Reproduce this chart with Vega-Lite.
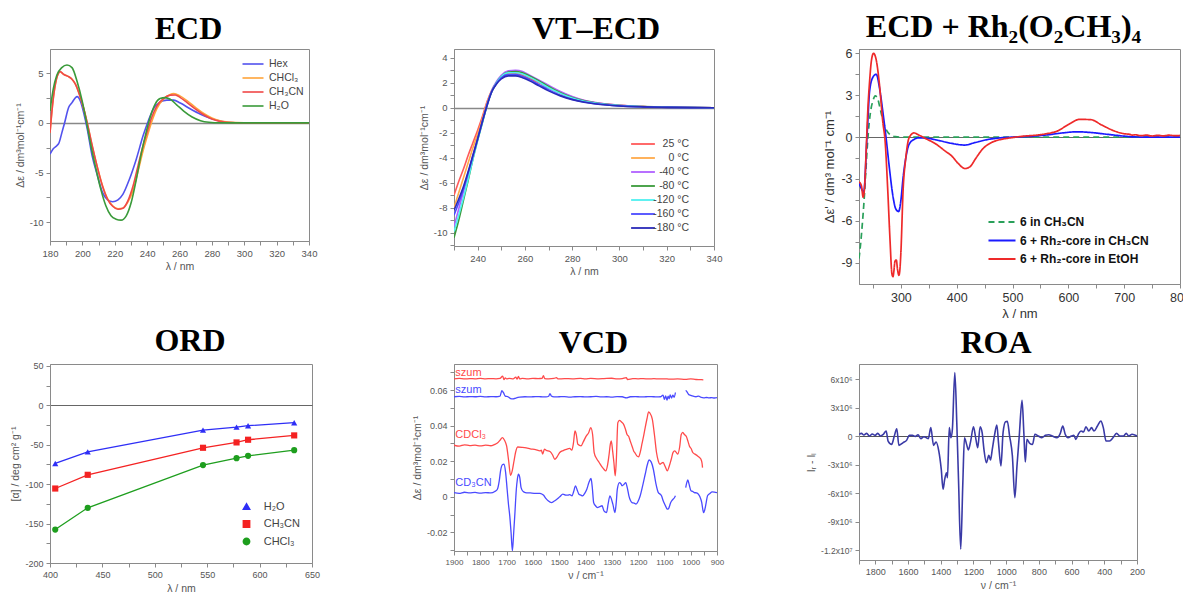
{
"$schema": "https://vega.github.io/schema/vega-lite/v6.json",
"padding": {"left": 10, "top": 10, "right": 5, "bottom": 5},
"background": "white",
"columns": 3,
"bounds": "flush",
"align": {"row": "all", "column": "none"},
"spacing": {"row": 80, "column": 142},
"resolve": {"scale": {"color": "independent", "shape": "independent", "strokeDash": "independent"}, "legend": {"color": "independent", "shape": "independent", "strokeDash": "independent"}},
"config": {
  "font": "Liberation Sans",
  "view": {"stroke": "#8a8a8a", "strokeWidth": 1},
  "axis": {"grid": false, "domainColor": "#8a8a8a", "tickColor": "#8a8a8a", "tickSize": 4, "labelFont": "Liberation Sans", "labelFontSize": 9.5, "labelColor": "#555555", "titleFont": "Liberation Sans", "titleFontSize": 10.5, "titleFontWeight": "normal", "titleColor": "#555555", "labelOverlap": false, "labelPadding": 3, "titlePadding": 4},
  "title": {"font": "Liberation Serif", "fontSize": 32, "fontWeight": "bold", "color": "#000000", "anchor": "middle", "baseline": "alphabetic"},
  "legend": {"labelFont": "Liberation Sans", "labelColor": "#444444", "labelFontSize": 10.5, "padding": 0}
},
"datasets": {
"ecd": [
{"s":"Hex","x":180,"y":-3.15},{"s":"Hex","x":182,"y":-2.6},{"s":"Hex","x":184.2,"y":-2.3},{"s":"Hex","x":185.6,"y":-2.0},{"s":"Hex","x":187.3,"y":-1.0},{"s":"Hex","x":189,"y":0},{"s":"Hex","x":191.5,"y":1.55},{"s":"Hex","x":193.6,"y":2.05},{"s":"Hex","x":195.5,"y":2.5},{"s":"Hex","x":196.7,"y":2.65},{"s":"Hex","x":198.8,"y":2.2},{"s":"Hex","x":201,"y":0.9},{"s":"Hex","x":203,"y":-0.6},{"s":"Hex","x":206,"y":-3.3},{"s":"Hex","x":209.3,"y":-5.3},{"s":"Hex","x":212.4,"y":-7.0},{"s":"Hex","x":215.6,"y":-7.75},{"s":"Hex","x":218.7,"y":-7.95},{"s":"Hex","x":222,"y":-7.75},{"s":"Hex","x":225,"y":-7.2},{"s":"Hex","x":229,"y":-5.7},{"s":"Hex","x":233.3,"y":-3.65},{"s":"Hex","x":237.5,"y":-1.3},{"s":"Hex","x":240.7,"y":0.2},{"s":"Hex","x":243.8,"y":1.4},{"s":"Hex","x":248,"y":2.1},{"s":"Hex","x":252.2,"y":2.3},{"s":"Hex","x":256.4,"y":2.3},{"s":"Hex","x":260.5,"y":2.0},{"s":"Hex","x":266.8,"y":1.4},{"s":"Hex","x":273,"y":0.87},{"s":"Hex","x":279.4,"y":0.44},{"s":"Hex","x":285.6,"y":0.17},{"s":"Hex","x":289.8,"y":0.07},{"s":"Hex","x":295,"y":0.02},{"s":"Hex","x":300,"y":0},{"s":"Hex","x":320,"y":0},{"s":"Hex","x":340,"y":0},
{"s":"CHCl₃","x":180,"y":-1.0},{"s":"CHCl₃","x":181.5,"y":1.7},{"s":"CHCl₃","x":183,"y":3.6},{"s":"CHCl₃","x":185,"y":4.95},{"s":"CHCl₃","x":186.3,"y":5.15},{"s":"CHCl₃","x":188.4,"y":4.9},{"s":"CHCl₃","x":191.5,"y":4.66},{"s":"CHCl₃","x":193.6,"y":4.4},{"s":"CHCl₃","x":195.7,"y":3.9},{"s":"CHCl₃","x":197.8,"y":3.05},{"s":"CHCl₃","x":200.9,"y":1.4},{"s":"CHCl₃","x":203,"y":0},{"s":"CHCl₃","x":206,"y":-2.3},{"s":"CHCl₃","x":209.3,"y":-4.5},{"s":"CHCl₃","x":212.4,"y":-6.3},{"s":"CHCl₃","x":215.6,"y":-7.65},{"s":"CHCl₃","x":218.7,"y":-8.35},{"s":"CHCl₃","x":222,"y":-8.65},{"s":"CHCl₃","x":225,"y":-8.6},{"s":"CHCl₃","x":228,"y":-8.0},{"s":"CHCl₃","x":231.5,"y":-6.7},{"s":"CHCl₃","x":234.5,"y":-4.8},{"s":"CHCl₃","x":237.5,"y":-2.8},{"s":"CHCl₃","x":240.7,"y":-1.0},{"s":"CHCl₃","x":243,"y":0.2},{"s":"CHCl₃","x":246,"y":1.45},{"s":"CHCl₃","x":250,"y":2.4},{"s":"CHCl₃","x":254,"y":2.85},{"s":"CHCl₃","x":256.5,"y":2.95},{"s":"CHCl₃","x":260,"y":2.75},{"s":"CHCl₃","x":265,"y":2.2},{"s":"CHCl₃","x":270,"y":1.55},{"s":"CHCl₃","x":275,"y":0.95},{"s":"CHCl₃","x":280,"y":0.5},{"s":"CHCl₃","x":285,"y":0.22},{"s":"CHCl₃","x":290,"y":0.08},{"s":"CHCl₃","x":300,"y":0.01},{"s":"CHCl₃","x":320,"y":0},{"s":"CHCl₃","x":340,"y":0},
{"s":"CH₃CN","x":180,"y":-1.0},{"s":"CH₃CN","x":181.5,"y":1.7},{"s":"CH₃CN","x":183.1,"y":3.7},{"s":"CH₃CN","x":185.2,"y":5.0},{"s":"CH₃CN","x":186.3,"y":5.17},{"s":"CH₃CN","x":188.4,"y":4.9},{"s":"CH₃CN","x":191.5,"y":4.66},{"s":"CH₃CN","x":193.6,"y":4.4},{"s":"CH₃CN","x":195.7,"y":3.9},{"s":"CH₃CN","x":197.8,"y":3.05},{"s":"CH₃CN","x":200.9,"y":1.4},{"s":"CH₃CN","x":203,"y":0},{"s":"CH₃CN","x":206.1,"y":-2.3},{"s":"CH₃CN","x":209.3,"y":-4.5},{"s":"CH₃CN","x":212.4,"y":-6.35},{"s":"CH₃CN","x":215.6,"y":-7.7},{"s":"CH₃CN","x":218.7,"y":-8.4},{"s":"CH₃CN","x":222,"y":-8.7},{"s":"CH₃CN","x":225,"y":-8.6},{"s":"CH₃CN","x":228.1,"y":-7.85},{"s":"CH₃CN","x":231.3,"y":-6.35},{"s":"CH₃CN","x":234.4,"y":-4.3},{"s":"CH₃CN","x":237.5,"y":-2.3},{"s":"CH₃CN","x":240.7,"y":-0.57},{"s":"CH₃CN","x":242.8,"y":0.54},{"s":"CH₃CN","x":246,"y":1.7},{"s":"CH₃CN","x":250.1,"y":2.45},{"s":"CH₃CN","x":254.3,"y":2.8},{"s":"CH₃CN","x":257.4,"y":2.82},{"s":"CH₃CN","x":260.5,"y":2.55},{"s":"CH₃CN","x":264.7,"y":2.05},{"s":"CH₃CN","x":269.9,"y":1.4},{"s":"CH₃CN","x":275.2,"y":0.8},{"s":"CH₃CN","x":280.4,"y":0.37},{"s":"CH₃CN","x":285.6,"y":0.13},{"s":"CH₃CN","x":290,"y":0.05},{"s":"CH₃CN","x":300,"y":0},{"s":"CH₃CN","x":320,"y":0},{"s":"CH₃CN","x":340,"y":0},
{"s":"H₂O","x":180,"y":1.2},{"s":"H₂O","x":182,"y":3.4},{"s":"H₂O","x":184.2,"y":4.8},{"s":"H₂O","x":187.3,"y":5.57},{"s":"H₂O","x":190.5,"y":5.84},{"s":"H₂O","x":193.6,"y":5.57},{"s":"H₂O","x":196.7,"y":4.2},{"s":"H₂O","x":199.9,"y":2.2},{"s":"H₂O","x":202.4,"y":0.2},{"s":"H₂O","x":205.1,"y":-2.15},{"s":"H₂O","x":208.2,"y":-4.5},{"s":"H₂O","x":211.4,"y":-6.7},{"s":"H₂O","x":214.5,"y":-8.35},{"s":"H₂O","x":217.7,"y":-9.36},{"s":"H₂O","x":220.8,"y":-9.7},{"s":"H₂O","x":223.9,"y":-9.8},{"s":"H₂O","x":227.1,"y":-9.36},{"s":"H₂O","x":230.2,"y":-8.0},{"s":"H₂O","x":233.3,"y":-5.7},{"s":"H₂O","x":236.5,"y":-3.0},{"s":"H₂O","x":239.6,"y":-0.8},{"s":"H₂O","x":242.1,"y":0.7},{"s":"H₂O","x":244.9,"y":1.88},{"s":"H₂O","x":248,"y":2.45},{"s":"H₂O","x":251.1,"y":2.55},{"s":"H₂O","x":254.3,"y":2.38},{"s":"H₂O","x":258.4,"y":1.8},{"s":"H₂O","x":262.6,"y":1.2},{"s":"H₂O","x":267.8,"y":0.6},{"s":"H₂O","x":273,"y":0.23},{"s":"H₂O","x":278.2,"y":0.07},{"s":"H₂O","x":285,"y":0.01},{"s":"H₂O","x":300,"y":0},{"s":"H₂O","x":340,"y":0}
],
"vt": [
{"t":"25 °C","x":230,"y":-7.0},{"t":"25 °C","x":232,"y":-5.9},{"t":"25 °C","x":234,"y":-4.9},{"t":"25 °C","x":236,"y":-3.8},{"t":"25 °C","x":238,"y":-2.8},{"t":"25 °C","x":240,"y":-1.8},{"t":"25 °C","x":242,"y":-0.7},{"t":"25 °C","x":244,"y":0.5},{"t":"25 °C","x":246,"y":1.4},{"t":"25 °C","x":248,"y":2.0},{"t":"25 °C","x":250,"y":2.4},{"t":"25 °C","x":253,"y":2.7},{"t":"25 °C","x":256,"y":2.75},{"t":"25 °C","x":259,"y":2.6},{"t":"25 °C","x":262,"y":2.35},{"t":"25 °C","x":266,"y":2.0},{"t":"25 °C","x":270,"y":1.6},{"t":"25 °C","x":275,"y":1.15},{"t":"25 °C","x":280,"y":0.8},{"t":"25 °C","x":285,"y":0.55},{"t":"25 °C","x":290,"y":0.38},{"t":"25 °C","x":300,"y":0.2},{"t":"25 °C","x":310,"y":0.1},{"t":"25 °C","x":320,"y":0.05},{"t":"25 °C","x":330,"y":0.02},{"t":"25 °C","x":340,"y":0},
{"t":"0 °C","x":230,"y":-8.0},{"t":"0 °C","x":232,"y":-6.8},{"t":"0 °C","x":234,"y":-5.6},{"t":"0 °C","x":236,"y":-4.4},{"t":"0 °C","x":238,"y":-3.2},{"t":"0 °C","x":240,"y":-2.1},{"t":"0 °C","x":242,"y":-0.9},{"t":"0 °C","x":244,"y":0.4},{"t":"0 °C","x":246,"y":1.4},{"t":"0 °C","x":248,"y":2.0},{"t":"0 °C","x":250,"y":2.45},{"t":"0 °C","x":253,"y":2.75},{"t":"0 °C","x":256,"y":2.85},{"t":"0 °C","x":259,"y":2.75},{"t":"0 °C","x":262,"y":2.5},{"t":"0 °C","x":266,"y":2.1},{"t":"0 °C","x":270,"y":1.7},{"t":"0 °C","x":275,"y":1.25},{"t":"0 °C","x":280,"y":0.85},{"t":"0 °C","x":285,"y":0.58},{"t":"0 °C","x":290,"y":0.4},{"t":"0 °C","x":300,"y":0.2},{"t":"0 °C","x":310,"y":0.1},{"t":"0 °C","x":320,"y":0.05},{"t":"0 °C","x":330,"y":0.02},{"t":"0 °C","x":340,"y":0},
{"t":"-40 °C","x":230,"y":-9.5},{"t":"-40 °C","x":232,"y":-8.1},{"t":"-40 °C","x":234,"y":-6.7},{"t":"-40 °C","x":236,"y":-5.3},{"t":"-40 °C","x":238,"y":-3.8},{"t":"-40 °C","x":240,"y":-2.5},{"t":"-40 °C","x":242,"y":-1.1},{"t":"-40 °C","x":244,"y":0.3},{"t":"-40 °C","x":246,"y":1.4},{"t":"-40 °C","x":248,"y":2.1},{"t":"-40 °C","x":250,"y":2.6},{"t":"-40 °C","x":253,"y":2.95},{"t":"-40 °C","x":256,"y":3.0},{"t":"-40 °C","x":259,"y":2.9},{"t":"-40 °C","x":262,"y":2.6},{"t":"-40 °C","x":266,"y":2.2},{"t":"-40 °C","x":270,"y":1.8},{"t":"-40 °C","x":275,"y":1.3},{"t":"-40 °C","x":280,"y":0.9},{"t":"-40 °C","x":285,"y":0.6},{"t":"-40 °C","x":290,"y":0.42},{"t":"-40 °C","x":300,"y":0.2},{"t":"-40 °C","x":310,"y":0.1},{"t":"-40 °C","x":320,"y":0.05},{"t":"-40 °C","x":330,"y":0.02},{"t":"-40 °C","x":340,"y":0},
{"t":"-80 °C","x":230,"y":-10.4},{"t":"-80 °C","x":232,"y":-9.0},{"t":"-80 °C","x":234,"y":-7.4},{"t":"-80 °C","x":236,"y":-5.8},{"t":"-80 °C","x":238,"y":-4.1},{"t":"-80 °C","x":240,"y":-2.6},{"t":"-80 °C","x":242,"y":-1.2},{"t":"-80 °C","x":244,"y":0.2},{"t":"-80 °C","x":246,"y":1.3},{"t":"-80 °C","x":248,"y":2.0},{"t":"-80 °C","x":250,"y":2.5},{"t":"-80 °C","x":253,"y":2.85},{"t":"-80 °C","x":256,"y":2.9},{"t":"-80 °C","x":259,"y":2.8},{"t":"-80 °C","x":262,"y":2.55},{"t":"-80 °C","x":266,"y":2.15},{"t":"-80 °C","x":270,"y":1.7},{"t":"-80 °C","x":275,"y":1.2},{"t":"-80 °C","x":280,"y":0.82},{"t":"-80 °C","x":285,"y":0.55},{"t":"-80 °C","x":290,"y":0.38},{"t":"-80 °C","x":300,"y":0.18},{"t":"-80 °C","x":310,"y":0.09},{"t":"-80 °C","x":320,"y":0.04},{"t":"-80 °C","x":330,"y":0.02},{"t":"-80 °C","x":340,"y":0},
{"t":"-120 °C","x":230,"y":-9.9},{"t":"-120 °C","x":232,"y":-8.6},{"t":"-120 °C","x":234,"y":-7.2},{"t":"-120 °C","x":236,"y":-5.7},{"t":"-120 °C","x":238,"y":-4.1},{"t":"-120 °C","x":240,"y":-2.6},{"t":"-120 °C","x":242,"y":-1.2},{"t":"-120 °C","x":244,"y":0.2},{"t":"-120 °C","x":246,"y":1.3},{"t":"-120 °C","x":248,"y":2.0},{"t":"-120 °C","x":250,"y":2.5},{"t":"-120 °C","x":253,"y":2.8},{"t":"-120 °C","x":256,"y":2.8},{"t":"-120 °C","x":259,"y":2.7},{"t":"-120 °C","x":262,"y":2.45},{"t":"-120 °C","x":266,"y":2.05},{"t":"-120 °C","x":270,"y":1.6},{"t":"-120 °C","x":275,"y":1.15},{"t":"-120 °C","x":280,"y":0.78},{"t":"-120 °C","x":285,"y":0.52},{"t":"-120 °C","x":290,"y":0.36},{"t":"-120 °C","x":300,"y":0.17},{"t":"-120 °C","x":310,"y":0.08},{"t":"-120 °C","x":320,"y":0.04},{"t":"-120 °C","x":330,"y":0.02},{"t":"-120 °C","x":340,"y":0},
{"t":"-160 °C","x":230,"y":-8.6},{"t":"-160 °C","x":232,"y":-7.6},{"t":"-160 °C","x":234,"y":-6.5},{"t":"-160 °C","x":236,"y":-5.2},{"t":"-160 °C","x":238,"y":-3.9},{"t":"-160 °C","x":240,"y":-2.5},{"t":"-160 °C","x":242,"y":-1.1},{"t":"-160 °C","x":244,"y":0.2},{"t":"-160 °C","x":246,"y":1.3},{"t":"-160 °C","x":248,"y":1.95},{"t":"-160 °C","x":250,"y":2.4},{"t":"-160 °C","x":253,"y":2.65},{"t":"-160 °C","x":256,"y":2.65},{"t":"-160 °C","x":259,"y":2.5},{"t":"-160 °C","x":262,"y":2.25},{"t":"-160 °C","x":266,"y":1.85},{"t":"-160 °C","x":270,"y":1.45},{"t":"-160 °C","x":275,"y":1.0},{"t":"-160 °C","x":280,"y":0.68},{"t":"-160 °C","x":285,"y":0.46},{"t":"-160 °C","x":290,"y":0.32},{"t":"-160 °C","x":300,"y":0.15},{"t":"-160 °C","x":310,"y":0.07},{"t":"-160 °C","x":320,"y":0.03},{"t":"-160 °C","x":330,"y":0.01},{"t":"-160 °C","x":340,"y":0},
{"t":"-180 °C","x":230,"y":-8.2},{"t":"-180 °C","x":232,"y":-7.3},{"t":"-180 °C","x":234,"y":-6.3},{"t":"-180 °C","x":236,"y":-5.1},{"t":"-180 °C","x":238,"y":-3.8},{"t":"-180 °C","x":240,"y":-2.5},{"t":"-180 °C","x":242,"y":-1.1},{"t":"-180 °C","x":244,"y":0.2},{"t":"-180 °C","x":246,"y":1.3},{"t":"-180 °C","x":248,"y":1.9},{"t":"-180 °C","x":250,"y":2.3},{"t":"-180 °C","x":253,"y":2.55},{"t":"-180 °C","x":256,"y":2.55},{"t":"-180 °C","x":259,"y":2.4},{"t":"-180 °C","x":262,"y":2.15},{"t":"-180 °C","x":266,"y":1.75},{"t":"-180 °C","x":270,"y":1.35},{"t":"-180 °C","x":275,"y":0.95},{"t":"-180 °C","x":280,"y":0.65},{"t":"-180 °C","x":285,"y":0.44},{"t":"-180 °C","x":290,"y":0.3},{"t":"-180 °C","x":300,"y":0.14},{"t":"-180 °C","x":310,"y":0.07},{"t":"-180 °C","x":320,"y":0.03},{"t":"-180 °C","x":330,"y":0.01},{"t":"-180 °C","x":340,"y":0}
],
"rh": [
{"s":"6 in CH₃CN","x":225,"y":-8.7},{"s":"6 in CH₃CN","x":228,"y":-7.6},{"s":"6 in CH₃CN","x":231,"y":-6.2},{"s":"6 in CH₃CN","x":234,"y":-4.6},{"s":"6 in CH₃CN","x":237,"y":-2.6},{"s":"6 in CH₃CN","x":240,"y":-0.6},{"s":"6 in CH₃CN","x":243,"y":0.9},{"s":"6 in CH₃CN","x":246,"y":1.9},{"s":"6 in CH₃CN","x":250,"y":2.6},{"s":"6 in CH₃CN","x":254,"y":2.95},{"s":"6 in CH₃CN","x":258,"y":2.8},{"s":"6 in CH₃CN","x":262,"y":2.2},{"s":"6 in CH₃CN","x":266,"y":1.5},{"s":"6 in CH₃CN","x":270,"y":0.9},{"s":"6 in CH₃CN","x":275,"y":0.45},{"s":"6 in CH₃CN","x":280,"y":0.2},{"s":"6 in CH₃CN","x":285,"y":0.08},{"s":"6 in CH₃CN","x":290,"y":0.03},{"s":"6 in CH₃CN","x":300,"y":0},{"s":"6 in CH₃CN","x":400,"y":0},{"s":"6 in CH₃CN","x":500,"y":0},{"s":"6 in CH₃CN","x":600,"y":0},{"s":"6 in CH₃CN","x":700,"y":0},{"s":"6 in CH₃CN","x":800,"y":0},
{"s":"6 + Rh₂-core in CH₃CN","x":225,"y":-3.3},{"s":"6 + Rh₂-core in CH₃CN","x":229.4,"y":-3.7},{"s":"6 + Rh₂-core in CH₃CN","x":233.5,"y":-3.95},{"s":"6 + Rh₂-core in CH₃CN","x":236,"y":-2.8},{"s":"6 + Rh₂-core in CH₃CN","x":238,"y":-1.0},{"s":"6 + Rh₂-core in CH₃CN","x":241,"y":1.3},{"s":"6 + Rh₂-core in CH₃CN","x":244,"y":3.3},{"s":"6 + Rh₂-core in CH₃CN","x":250,"y":4.3},{"s":"6 + Rh₂-core in CH₃CN","x":255.9,"y":4.5},{"s":"6 + Rh₂-core in CH₃CN","x":261.8,"y":3.5},{"s":"6 + Rh₂-core in CH₃CN","x":267.6,"y":1.85},{"s":"6 + Rh₂-core in CH₃CN","x":273.5,"y":-0.05},{"s":"6 + Rh₂-core in CH₃CN","x":279.4,"y":-2.2},{"s":"6 + Rh₂-core in CH₃CN","x":285.3,"y":-4.1},{"s":"6 + Rh₂-core in CH₃CN","x":291,"y":-5.15},{"s":"6 + Rh₂-core in CH₃CN","x":295.9,"y":-5.33},{"s":"6 + Rh₂-core in CH₃CN","x":300,"y":-4.55},{"s":"6 + Rh₂-core in CH₃CN","x":304,"y":-2.9},{"s":"6 + Rh₂-core in CH₃CN","x":308.8,"y":-1.5},{"s":"6 + Rh₂-core in CH₃CN","x":314.7,"y":-0.52},{"s":"6 + Rh₂-core in CH₃CN","x":323.5,"y":-0.17},{"s":"6 + Rh₂-core in CH₃CN","x":332,"y":-0.05},{"s":"6 + Rh₂-core in CH₃CN","x":350,"y":-0.1},{"s":"6 + Rh₂-core in CH₃CN","x":367.6,"y":-0.24},{"s":"6 + Rh₂-core in CH₃CN","x":391,"y":-0.45},{"s":"6 + Rh₂-core in CH₃CN","x":414.7,"y":-0.57},{"s":"6 + Rh₂-core in CH₃CN","x":432,"y":-0.4},{"s":"6 + Rh₂-core in CH₃CN","x":456,"y":-0.17},{"s":"6 + Rh₂-core in CH₃CN","x":479.4,"y":-0.05},{"s":"6 + Rh₂-core in CH₃CN","x":500,"y":0},{"s":"6 + Rh₂-core in CH₃CN","x":530,"y":0.05},{"s":"6 + Rh₂-core in CH₃CN","x":560,"y":0.15},{"s":"6 + Rh₂-core in CH₃CN","x":590,"y":0.3},{"s":"6 + Rh₂-core in CH₃CN","x":615,"y":0.38},{"s":"6 + Rh₂-core in CH₃CN","x":640,"y":0.33},{"s":"6 + Rh₂-core in CH₃CN","x":670,"y":0.2},{"s":"6 + Rh₂-core in CH₃CN","x":700,"y":0.07},{"s":"6 + Rh₂-core in CH₃CN","x":720,"y":0.01},{"s":"6 + Rh₂-core in CH₃CN","x":750,"y":0},{"s":"6 + Rh₂-core in CH₃CN","x":800,"y":0},
{"s":"6 + Rh₂-core in EtOH","x":225,"y":-3.2},{"s":"6 + Rh₂-core in EtOH","x":229.4,"y":-3.5},{"s":"6 + Rh₂-core in EtOH","x":232.4,"y":-4.3},{"s":"6 + Rh₂-core in EtOH","x":235.3,"y":-3.4},{"s":"6 + Rh₂-core in EtOH","x":238,"y":-0.8},{"s":"6 + Rh₂-core in EtOH","x":241,"y":2.1},{"s":"6 + Rh₂-core in EtOH","x":244,"y":4.0},{"s":"6 + Rh₂-core in EtOH","x":247,"y":5.4},{"s":"6 + Rh₂-core in EtOH","x":251,"y":6.0},{"s":"6 + Rh₂-core in EtOH","x":256,"y":5.5},{"s":"6 + Rh₂-core in EtOH","x":261.8,"y":3.7},{"s":"6 + Rh₂-core in EtOH","x":267.6,"y":1.1},{"s":"6 + Rh₂-core in EtOH","x":271.8,"y":-0.3},{"s":"6 + Rh₂-core in EtOH","x":276.5,"y":-3.8},{"s":"6 + Rh₂-core in EtOH","x":280.6,"y":-7.4},{"s":"6 + Rh₂-core in EtOH","x":284,"y":-9.8},{"s":"6 + Rh₂-core in EtOH","x":285.9,"y":-10.0},{"s":"6 + Rh₂-core in EtOH","x":287.5,"y":-9.6},{"s":"6 + Rh₂-core in EtOH","x":289.4,"y":-8.9},{"s":"6 + Rh₂-core in EtOH","x":291.8,"y":-8.8},{"s":"6 + Rh₂-core in EtOH","x":294.1,"y":-9.5},{"s":"6 + Rh₂-core in EtOH","x":296.5,"y":-9.9},{"s":"6 + Rh₂-core in EtOH","x":298,"y":-9.6},{"s":"6 + Rh₂-core in EtOH","x":300,"y":-8.3},{"s":"6 + Rh₂-core in EtOH","x":304,"y":-3.8},{"s":"6 + Rh₂-core in EtOH","x":308.8,"y":-1.5},{"s":"6 + Rh₂-core in EtOH","x":314.7,"y":-0.05},{"s":"6 + Rh₂-core in EtOH","x":323.5,"y":0.3},{"s":"6 + Rh₂-core in EtOH","x":332,"y":0.15},{"s":"6 + Rh₂-core in EtOH","x":344,"y":-0.1},{"s":"6 + Rh₂-core in EtOH","x":361.8,"y":-0.47},{"s":"6 + Rh₂-core in EtOH","x":379.4,"y":-1.0},{"s":"6 + Rh₂-core in EtOH","x":391,"y":-1.35},{"s":"6 + Rh₂-core in EtOH","x":403,"y":-1.9},{"s":"6 + Rh₂-core in EtOH","x":414.7,"y":-2.25},{"s":"6 + Rh₂-core in EtOH","x":423.5,"y":-2.13},{"s":"6 + Rh₂-core in EtOH","x":435,"y":-1.47},{"s":"6 + Rh₂-core in EtOH","x":447,"y":-0.83},{"s":"6 + Rh₂-core in EtOH","x":461.8,"y":-0.4},{"s":"6 + Rh₂-core in EtOH","x":479,"y":-0.17},{"s":"6 + Rh₂-core in EtOH","x":497,"y":-0.05},{"s":"6 + Rh₂-core in EtOH","x":520,"y":0.07},{"s":"6 + Rh₂-core in EtOH","x":540,"y":0.13},{"s":"6 + Rh₂-core in EtOH","x":560,"y":0.24},{"s":"6 + Rh₂-core in EtOH","x":580,"y":0.43},{"s":"6 + Rh₂-core in EtOH","x":600,"y":0.9},{"s":"6 + Rh₂-core in EtOH","x":620,"y":1.27},{"s":"6 + Rh₂-core in EtOH","x":640,"y":1.25},{"s":"6 + Rh₂-core in EtOH","x":660,"y":0.86},{"s":"6 + Rh₂-core in EtOH","x":680,"y":0.48},{"s":"6 + Rh₂-core in EtOH","x":700,"y":0.24},{"s":"6 + Rh₂-core in EtOH","x":710,"y":0.2},{"s":"6 + Rh₂-core in EtOH","x":715,"y":0.14},{"s":"6 + Rh₂-core in EtOH","x":720,"y":0.17},{"s":"6 + Rh₂-core in EtOH","x":730,"y":0.1},{"s":"6 + Rh₂-core in EtOH","x":740,"y":0.14},{"s":"6 + Rh₂-core in EtOH","x":750,"y":0.08},{"s":"6 + Rh₂-core in EtOH","x":760,"y":0.13},{"s":"6 + Rh₂-core in EtOH","x":770,"y":0.09},{"s":"6 + Rh₂-core in EtOH","x":780,"y":0.14},{"s":"6 + Rh₂-core in EtOH","x":790,"y":0.1},{"s":"6 + Rh₂-core in EtOH","x":800,"y":0.12}
],
"ord": [
{"s":"H₂O","x":405,"y":-73.7},{"s":"H₂O","x":436,"y":-58.9},{"s":"H₂O","x":546,"y":-31.4},{"s":"H₂O","x":578,"y":-27.5},{"s":"H₂O","x":589,"y":-25.8},{"s":"H₂O","x":633,"y":-22.0},
{"s":"CH₃CN","x":405,"y":-105.5},{"s":"CH₃CN","x":436,"y":-88.1},{"s":"CH₃CN","x":546,"y":-53.8},{"s":"CH₃CN","x":578,"y":-47.0},{"s":"CH₃CN","x":589,"y":-43.6},{"s":"CH₃CN","x":633,"y":-38.1},
{"s":"CHCl₃","x":405,"y":-157.6},{"s":"CHCl₃","x":436,"y":-130.0},{"s":"CHCl₃","x":546,"y":-75.8},{"s":"CHCl₃","x":578,"y":-67.0},{"s":"CHCl₃","x":589,"y":-64.0},{"s":"CHCl₃","x":633,"y":-56.8}
],
"vcd": [
{"g":"CDCl₃","seg":"n1","x":1900,"y":0.0663},{"g":"CDCl₃","seg":"n1","x":1880,"y":0.0665},{"g":"CDCl₃","seg":"n1","x":1860,"y":0.0662},{"g":"CDCl₃","seg":"n1","x":1840,"y":0.0664},{"g":"CDCl₃","seg":"n1","x":1820,"y":0.0663},{"g":"CDCl₃","seg":"n1","x":1800,"y":0.0665},{"g":"CDCl₃","seg":"n1","x":1780,"y":0.0663},{"g":"CDCl₃","seg":"n1","x":1760,"y":0.0664},{"g":"CDCl₃","seg":"n1","x":1740,"y":0.0663},{"g":"CDCl₃","seg":"n1","x":1725,"y":0.0665},{"g":"CDCl₃","seg":"n1","x":1715,"y":0.0678},{"g":"CDCl₃","seg":"n1","x":1710,"y":0.0658},{"g":"CDCl₃","seg":"n1","x":1705,"y":0.0668},{"g":"CDCl₃","seg":"n1","x":1700,"y":0.0662},{"g":"CDCl₃","seg":"n1","x":1690,"y":0.0665},{"g":"CDCl₃","seg":"n1","x":1675,"y":0.0663},{"g":"CDCl₃","seg":"n1","x":1665,"y":0.0672},{"g":"CDCl₃","seg":"n1","x":1660,"y":0.0661},{"g":"CDCl₃","seg":"n1","x":1655,"y":0.0676},{"g":"CDCl₃","seg":"n1","x":1650,"y":0.0662},{"g":"CDCl₃","seg":"n1","x":1640,"y":0.0665},{"g":"CDCl₃","seg":"n1","x":1620,"y":0.0663},{"g":"CDCl₃","seg":"n1","x":1600,"y":0.0665},{"g":"CDCl₃","seg":"n1","x":1580,"y":0.0664},{"g":"CDCl₃","seg":"n1","x":1565,"y":0.0666},{"g":"CDCl₃","seg":"n1","x":1560,"y":0.0680},{"g":"CDCl₃","seg":"n1","x":1555,"y":0.0664},{"g":"CDCl₃","seg":"n1","x":1540,"y":0.0663},{"g":"CDCl₃","seg":"n1","x":1520,"y":0.0665},{"g":"CDCl₃","seg":"n1","x":1510,"y":0.0670},{"g":"CDCl₃","seg":"n1","x":1505,"y":0.0662},{"g":"CDCl₃","seg":"n1","x":1480,"y":0.0664},{"g":"CDCl₃","seg":"n1","x":1450,"y":0.0663},{"g":"CDCl₃","seg":"n1","x":1420,"y":0.0665},{"g":"CDCl₃","seg":"n1","x":1400,"y":0.0663},{"g":"CDCl₃","seg":"n1","x":1380,"y":0.0665},{"g":"CDCl₃","seg":"n1","x":1350,"y":0.0663},{"g":"CDCl₃","seg":"n1","x":1330,"y":0.0664},{"g":"CDCl₃","seg":"n1","x":1300,"y":0.0666},{"g":"CDCl₃","seg":"n1","x":1280,"y":0.0662},{"g":"CDCl₃","seg":"n1","x":1260,"y":0.0664},{"g":"CDCl₃","seg":"n1","x":1245,"y":0.0669},{"g":"CDCl₃","seg":"n1","x":1240,"y":0.0659},{"g":"CDCl₃","seg":"n1","x":1220,"y":0.0664},{"g":"CDCl₃","seg":"n1","x":1200,"y":0.0663},{"g":"CDCl₃","seg":"n1","x":1180,"y":0.0664},{"g":"CDCl₃","seg":"n1","x":1160,"y":0.0662},{"g":"CDCl₃","seg":"n1","x":1140,"y":0.0664},{"g":"CDCl₃","seg":"n1","x":1120,"y":0.0662},{"g":"CDCl₃","seg":"n1","x":1100,"y":0.0663},{"g":"CDCl₃","seg":"n1","x":1080,"y":0.0661},{"g":"CDCl₃","seg":"n1","x":1050,"y":0.0662},{"g":"CDCl₃","seg":"n1","x":1020,"y":0.0660},{"g":"CDCl₃","seg":"n1","x":1000,"y":0.0663},{"g":"CDCl₃","seg":"n1","x":980,"y":0.0659},{"g":"CDCl₃","seg":"n1","x":960,"y":0.0658},{"g":"CDCl₃","seg":"n1","x":952,"y":0.0657},
{"g":"CD₃CN","seg":"n2a","x":1900,"y":0.0562},{"g":"CD₃CN","seg":"n2a","x":1880,"y":0.0564},{"g":"CD₃CN","seg":"n2a","x":1860,"y":0.0561},{"g":"CD₃CN","seg":"n2a","x":1840,"y":0.0563},{"g":"CD₃CN","seg":"n2a","x":1820,"y":0.0562},{"g":"CD₃CN","seg":"n2a","x":1800,"y":0.0564},{"g":"CD₃CN","seg":"n2a","x":1780,"y":0.0561},{"g":"CD₃CN","seg":"n2a","x":1760,"y":0.0563},{"g":"CD₃CN","seg":"n2a","x":1740,"y":0.0562},{"g":"CD₃CN","seg":"n2a","x":1725,"y":0.0565},{"g":"CD₃CN","seg":"n2a","x":1718,"y":0.0596},{"g":"CD₃CN","seg":"n2a","x":1712,"y":0.0585},{"g":"CD₃CN","seg":"n2a","x":1705,"y":0.0566},{"g":"CD₃CN","seg":"n2a","x":1695,"y":0.0562},{"g":"CD₃CN","seg":"n2a","x":1685,"y":0.0552},{"g":"CD₃CN","seg":"n2a","x":1675,"y":0.0550},{"g":"CD₃CN","seg":"n2a","x":1665,"y":0.0555},{"g":"CD₃CN","seg":"n2a","x":1650,"y":0.0560},{"g":"CD₃CN","seg":"n2a","x":1630,"y":0.0562},{"g":"CD₃CN","seg":"n2a","x":1610,"y":0.0561},{"g":"CD₃CN","seg":"n2a","x":1590,"y":0.0563},{"g":"CD₃CN","seg":"n2a","x":1570,"y":0.0562},{"g":"CD₃CN","seg":"n2a","x":1550,"y":0.0561},{"g":"CD₃CN","seg":"n2a","x":1540,"y":0.0565},{"g":"CD₃CN","seg":"n2a","x":1535,"y":0.0580},{"g":"CD₃CN","seg":"n2a","x":1530,"y":0.0566},{"g":"CD₃CN","seg":"n2a","x":1520,"y":0.0561},{"g":"CD₃CN","seg":"n2a","x":1500,"y":0.0562},{"g":"CD₃CN","seg":"n2a","x":1480,"y":0.0563},{"g":"CD₃CN","seg":"n2a","x":1460,"y":0.0560},{"g":"CD₃CN","seg":"n2a","x":1440,"y":0.0562},{"g":"CD₃CN","seg":"n2a","x":1420,"y":0.0563},{"g":"CD₃CN","seg":"n2a","x":1400,"y":0.0561},{"g":"CD₃CN","seg":"n2a","x":1380,"y":0.0562},{"g":"CD₃CN","seg":"n2a","x":1360,"y":0.0564},{"g":"CD₃CN","seg":"n2a","x":1340,"y":0.0561},{"g":"CD₃CN","seg":"n2a","x":1320,"y":0.0562},{"g":"CD₃CN","seg":"n2a","x":1300,"y":0.0560},{"g":"CD₃CN","seg":"n2a","x":1280,"y":0.0563},{"g":"CD₃CN","seg":"n2a","x":1260,"y":0.0562},{"g":"CD₃CN","seg":"n2a","x":1245,"y":0.0556},{"g":"CD₃CN","seg":"n2a","x":1230,"y":0.0562},{"g":"CD₃CN","seg":"n2a","x":1210,"y":0.0563},{"g":"CD₃CN","seg":"n2a","x":1190,"y":0.0561},{"g":"CD₃CN","seg":"n2a","x":1170,"y":0.0562},{"g":"CD₃CN","seg":"n2a","x":1150,"y":0.0563},{"g":"CD₃CN","seg":"n2a","x":1130,"y":0.0561},{"g":"CD₃CN","seg":"n2a","x":1115,"y":0.0562},{"g":"CD₃CN","seg":"n2a","x":1105,"y":0.0571},{"g":"CD₃CN","seg":"n2a","x":1100,"y":0.0547},{"g":"CD₃CN","seg":"n2a","x":1095,"y":0.0567},{"g":"CD₃CN","seg":"n2a","x":1090,"y":0.0543},{"g":"CD₃CN","seg":"n2a","x":1086,"y":0.0566},{"g":"CD₃CN","seg":"n2a","x":1082,"y":0.0551},{"g":"CD₃CN","seg":"n2a","x":1078,"y":0.0573},{"g":"CD₃CN","seg":"n2a","x":1073,"y":0.0555},{"g":"CD₃CN","seg":"n2a","x":1068,"y":0.0571},{"g":"CD₃CN","seg":"n2a","x":1063,"y":0.0559},{"g":"CD₃CN","seg":"n2a","x":1058,"y":0.0586},
{"g":"CD₃CN","seg":"n2b","x":1019,"y":0.0598},{"g":"CD₃CN","seg":"n2b","x":1014,"y":0.0590},{"g":"CD₃CN","seg":"n2b","x":1008,"y":0.0575},{"g":"CD₃CN","seg":"n2b","x":1000,"y":0.0570},{"g":"CD₃CN","seg":"n2b","x":990,"y":0.0565},{"g":"CD₃CN","seg":"n2b","x":980,"y":0.0562},{"g":"CD₃CN","seg":"n2b","x":970,"y":0.0566},{"g":"CD₃CN","seg":"n2b","x":960,"y":0.0558},{"g":"CD₃CN","seg":"n2b","x":950,"y":0.0556},{"g":"CD₃CN","seg":"n2b","x":940,"y":0.0558},{"g":"CD₃CN","seg":"n2b","x":930,"y":0.0556},{"g":"CD₃CN","seg":"n2b","x":920,"y":0.0557},{"g":"CD₃CN","seg":"n2b","x":910,"y":0.0555},{"g":"CD₃CN","seg":"n2b","x":900,"y":0.0557},
{"g":"CDCl₃","seg":"m1","x":1900,"y":0.0290},{"g":"CDCl₃","seg":"m1","x":1880,"y":0.0285},{"g":"CDCl₃","seg":"m1","x":1860,"y":0.0292},{"g":"CDCl₃","seg":"m1","x":1840,"y":0.0288},{"g":"CDCl₃","seg":"m1","x":1820,"y":0.0290},{"g":"CDCl₃","seg":"m1","x":1800,"y":0.0286},{"g":"CDCl₃","seg":"m1","x":1780,"y":0.0290},{"g":"CDCl₃","seg":"m1","x":1760,"y":0.0287},{"g":"CDCl₃","seg":"m1","x":1745,"y":0.0295},{"g":"CDCl₃","seg":"m1","x":1735,"y":0.0302},{"g":"CDCl₃","seg":"m1","x":1725,"y":0.0318},{"g":"CDCl₃","seg":"m1","x":1716,"y":0.0333},{"g":"CDCl₃","seg":"m1","x":1708,"y":0.0318},{"g":"CDCl₃","seg":"m1","x":1700,"y":0.0286},{"g":"CDCl₃","seg":"m1","x":1692,"y":0.0200},{"g":"CDCl₃","seg":"m1","x":1685,"y":0.0121},{"g":"CDCl₃","seg":"m1","x":1678,"y":0.0150},{"g":"CDCl₃","seg":"m1","x":1672,"y":0.0200},{"g":"CDCl₃","seg":"m1","x":1666,"y":0.0249},{"g":"CDCl₃","seg":"m1","x":1658,"y":0.0280},{"g":"CDCl₃","seg":"m1","x":1640,"y":0.0278},{"g":"CDCl₃","seg":"m1","x":1625,"y":0.0275},{"g":"CDCl₃","seg":"m1","x":1610,"y":0.0270},{"g":"CDCl₃","seg":"m1","x":1590,"y":0.0265},{"g":"CDCl₃","seg":"m1","x":1573,"y":0.0258},{"g":"CDCl₃","seg":"m1","x":1568,"y":0.0262},{"g":"CDCl₃","seg":"m1","x":1563,"y":0.0240},{"g":"CDCl₃","seg":"m1","x":1556,"y":0.0268},{"g":"CDCl₃","seg":"m1","x":1550,"y":0.0262},{"g":"CDCl₃","seg":"m1","x":1535,"y":0.0255},{"g":"CDCl₃","seg":"m1","x":1525,"y":0.0235},{"g":"CDCl₃","seg":"m1","x":1517,"y":0.0211},{"g":"CDCl₃","seg":"m1","x":1508,"y":0.0225},{"g":"CDCl₃","seg":"m1","x":1498,"y":0.0249},{"g":"CDCl₃","seg":"m1","x":1485,"y":0.0260},{"g":"CDCl₃","seg":"m1","x":1473,"y":0.0267},{"g":"CDCl₃","seg":"m1","x":1460,"y":0.0272},{"g":"CDCl₃","seg":"m1","x":1452,"y":0.0262},{"g":"CDCl₃","seg":"m1","x":1446,"y":0.0300},{"g":"CDCl₃","seg":"m1","x":1440,"y":0.0370},{"g":"CDCl₃","seg":"m1","x":1435,"y":0.0350},{"g":"CDCl₃","seg":"m1","x":1429,"y":0.0295},{"g":"CDCl₃","seg":"m1","x":1417,"y":0.0286},{"g":"CDCl₃","seg":"m1","x":1408,"y":0.0310},{"g":"CDCl₃","seg":"m1","x":1398,"y":0.0340},{"g":"CDCl₃","seg":"m1","x":1388,"y":0.0360},{"g":"CDCl₃","seg":"m1","x":1380,"y":0.0389},{"g":"CDCl₃","seg":"m1","x":1373,"y":0.0350},{"g":"CDCl₃","seg":"m1","x":1367,"y":0.0249},{"g":"CDCl₃","seg":"m1","x":1358,"y":0.0215},{"g":"CDCl₃","seg":"m1","x":1348,"y":0.0193},{"g":"CDCl₃","seg":"m1","x":1338,"y":0.0170},{"g":"CDCl₃","seg":"m1","x":1330,"y":0.0155},{"g":"CDCl₃","seg":"m1","x":1323,"y":0.0146},{"g":"CDCl₃","seg":"m1","x":1316,"y":0.0180},{"g":"CDCl₃","seg":"m1","x":1311,"y":0.0230},{"g":"CDCl₃","seg":"m1","x":1305,"y":0.0300},{"g":"CDCl₃","seg":"m1","x":1302,"y":0.0314},{"g":"CDCl₃","seg":"m1","x":1297,"y":0.0260},{"g":"CDCl₃","seg":"m1","x":1292,"y":0.0193},{"g":"CDCl₃","seg":"m1","x":1287,"y":0.0118},{"g":"CDCl₃","seg":"m1","x":1283,"y":0.0200},{"g":"CDCl₃","seg":"m1","x":1277,"y":0.0417},{"g":"CDCl₃","seg":"m1","x":1271,"y":0.0430},{"g":"CDCl₃","seg":"m1","x":1263,"y":0.0420},{"g":"CDCl₃","seg":"m1","x":1255,"y":0.0407},{"g":"CDCl₃","seg":"m1","x":1248,"y":0.0380},{"g":"CDCl₃","seg":"m1","x":1242,"y":0.0350},{"g":"CDCl₃","seg":"m1","x":1236,"y":0.0340},{"g":"CDCl₃","seg":"m1","x":1230,"y":0.0314},{"g":"CDCl₃","seg":"m1","x":1222,"y":0.0280},{"g":"CDCl₃","seg":"m1","x":1217,"y":0.0258},{"g":"CDCl₃","seg":"m1","x":1211,"y":0.0245},{"g":"CDCl₃","seg":"m1","x":1205,"y":0.0230},{"g":"CDCl₃","seg":"m1","x":1198,"y":0.0225},{"g":"CDCl₃","seg":"m1","x":1192,"y":0.0250},{"g":"CDCl₃","seg":"m1","x":1185,"y":0.0300},{"g":"CDCl₃","seg":"m1","x":1178,"y":0.0350},{"g":"CDCl₃","seg":"m1","x":1173,"y":0.0389},{"g":"CDCl₃","seg":"m1","x":1166,"y":0.0440},{"g":"CDCl₃","seg":"m1","x":1160,"y":0.0477},{"g":"CDCl₃","seg":"m1","x":1155,"y":0.0470},{"g":"CDCl₃","seg":"m1","x":1146,"y":0.0436},{"g":"CDCl₃","seg":"m1","x":1138,"y":0.0350},{"g":"CDCl₃","seg":"m1","x":1130,"y":0.0249},{"g":"CDCl₃","seg":"m1","x":1123,"y":0.0200},{"g":"CDCl₃","seg":"m1","x":1117,"y":0.0183},{"g":"CDCl₃","seg":"m1","x":1110,"y":0.0190},{"g":"CDCl₃","seg":"m1","x":1105,"y":0.0193},{"g":"CDCl₃","seg":"m1","x":1097,"y":0.0170},{"g":"CDCl₃","seg":"m1","x":1089,"y":0.0146},{"g":"CDCl₃","seg":"m1","x":1082,"y":0.0170},{"g":"CDCl₃","seg":"m1","x":1074,"y":0.0211},{"g":"CDCl₃","seg":"m1","x":1067,"y":0.0250},{"g":"CDCl₃","seg":"m1","x":1061,"y":0.0258},{"g":"CDCl₃","seg":"m1","x":1055,"y":0.0250},{"g":"CDCl₃","seg":"m1","x":1049,"y":0.0240},{"g":"CDCl₃","seg":"m1","x":1042,"y":0.0280},{"g":"CDCl₃","seg":"m1","x":1036,"y":0.0350},{"g":"CDCl₃","seg":"m1","x":1030,"y":0.0362},{"g":"CDCl₃","seg":"m1","x":1024,"y":0.0350},{"g":"CDCl₃","seg":"m1","x":1017,"y":0.0340},{"g":"CDCl₃","seg":"m1","x":1010,"y":0.0310},{"g":"CDCl₃","seg":"m1","x":1005,"y":0.0286},{"g":"CDCl₃","seg":"m1","x":998,"y":0.0270},{"g":"CDCl₃","seg":"m1","x":992,"y":0.0249},{"g":"CDCl₃","seg":"m1","x":984,"y":0.0240},{"g":"CDCl₃","seg":"m1","x":974,"y":0.0230},{"g":"CDCl₃","seg":"m1","x":966,"y":0.0220},{"g":"CDCl₃","seg":"m1","x":961,"y":0.0211},{"g":"CDCl₃","seg":"m1","x":957,"y":0.0190},{"g":"CDCl₃","seg":"m1","x":955,"y":0.0164},
{"g":"CD₃CN","seg":"m2a","x":1900,"y":0.0024},{"g":"CD₃CN","seg":"m2a","x":1880,"y":0.0020},{"g":"CD₃CN","seg":"m2a","x":1860,"y":0.0026},{"g":"CD₃CN","seg":"m2a","x":1840,"y":0.0022},{"g":"CD₃CN","seg":"m2a","x":1820,"y":0.0025},{"g":"CD₃CN","seg":"m2a","x":1800,"y":0.0021},{"g":"CD₃CN","seg":"m2a","x":1780,"y":0.0024},{"g":"CD₃CN","seg":"m2a","x":1760,"y":0.0022},{"g":"CD₃CN","seg":"m2a","x":1745,"y":0.0030},{"g":"CD₃CN","seg":"m2a","x":1735,"y":0.0043},{"g":"CD₃CN","seg":"m2a","x":1728,"y":0.0090},{"g":"CD₃CN","seg":"m2a","x":1723,"y":0.0146},{"g":"CD₃CN","seg":"m2a","x":1716,"y":0.0180},{"g":"CD₃CN","seg":"m2a","x":1710,"y":0.0183},{"g":"CD₃CN","seg":"m2a","x":1704,"y":0.0140},{"g":"CD₃CN","seg":"m2a","x":1698,"y":0.0043},{"g":"CD₃CN","seg":"m2a","x":1693,"y":-0.0040},{"g":"CD₃CN","seg":"m2a","x":1688,"y":-0.0107},{"g":"CD₃CN","seg":"m2a","x":1683,"y":-0.0200},{"g":"CD₃CN","seg":"m2a","x":1678,"y":-0.0303},{"g":"CD₃CN","seg":"m2a","x":1673,"y":-0.0200},{"g":"CD₃CN","seg":"m2a","x":1669,"y":-0.0107},{"g":"CD₃CN","seg":"m2a","x":1663,"y":0.0043},{"g":"CD₃CN","seg":"m2a","x":1659,"y":0.0100},{"g":"CD₃CN","seg":"m2a","x":1655,"y":0.0127},{"g":"CD₃CN","seg":"m2a","x":1650,"y":0.0110},{"g":"CD₃CN","seg":"m2a","x":1645,"y":0.0052},{"g":"CD₃CN","seg":"m2a","x":1637,"y":0.0030},{"g":"CD₃CN","seg":"m2a","x":1629,"y":0.0024},{"g":"CD₃CN","seg":"m2a","x":1610,"y":0.0022},{"g":"CD₃CN","seg":"m2a","x":1590,"y":0.0020},{"g":"CD₃CN","seg":"m2a","x":1573,"y":0.0020},{"g":"CD₃CN","seg":"m2a","x":1565,"y":0.0015},{"g":"CD₃CN","seg":"m2a","x":1560,"y":0.0010},{"g":"CD₃CN","seg":"m2a","x":1550,"y":-0.0010},{"g":"CD₃CN","seg":"m2a","x":1542,"y":-0.0022},{"g":"CD₃CN","seg":"m2a","x":1529,"y":-0.0032},{"g":"CD₃CN","seg":"m2a","x":1520,"y":-0.0025},{"g":"CD₃CN","seg":"m2a","x":1510,"y":-0.0015},{"g":"CD₃CN","seg":"m2a","x":1498,"y":0.0000},{"g":"CD₃CN","seg":"m2a","x":1486,"y":0.0015},{"g":"CD₃CN","seg":"m2a","x":1475,"y":0.0010},{"g":"CD₃CN","seg":"m2a","x":1467,"y":0.0010},{"g":"CD₃CN","seg":"m2a","x":1460,"y":0.0013},{"g":"CD₃CN","seg":"m2a","x":1451,"y":0.0006},{"g":"CD₃CN","seg":"m2a","x":1445,"y":0.0030},{"g":"CD₃CN","seg":"m2a","x":1438,"y":0.0062},{"g":"CD₃CN","seg":"m2a","x":1432,"y":0.0040},{"g":"CD₃CN","seg":"m2a","x":1425,"y":0.0015},{"g":"CD₃CN","seg":"m2a","x":1418,"y":0.0010},{"g":"CD₃CN","seg":"m2a","x":1411,"y":0.0006},{"g":"CD₃CN","seg":"m2a","x":1403,"y":0.0020},{"g":"CD₃CN","seg":"m2a","x":1395,"y":0.0043},{"g":"CD₃CN","seg":"m2a","x":1387,"y":0.0080},{"g":"CD₃CN","seg":"m2a","x":1379,"y":0.0103},{"g":"CD₃CN","seg":"m2a","x":1374,"y":0.0050},{"g":"CD₃CN","seg":"m2a","x":1369,"y":-0.0032},{"g":"CD₃CN","seg":"m2a","x":1362,"y":-0.0050},{"g":"CD₃CN","seg":"m2a","x":1354,"y":-0.0060},{"g":"CD₃CN","seg":"m2a","x":1346,"y":-0.0055},{"g":"CD₃CN","seg":"m2a","x":1337,"y":-0.0050},{"g":"CD₃CN","seg":"m2a","x":1333,"y":-0.0065},{"g":"CD₃CN","seg":"m2a","x":1330,"y":-0.0078},{"g":"CD₃CN","seg":"m2a","x":1325,"y":-0.0085},{"g":"CD₃CN","seg":"m2a","x":1320,"y":-0.0088},{"g":"CD₃CN","seg":"m2a","x":1314,"y":-0.0040},{"g":"CD₃CN","seg":"m2a","x":1307,"y":0.0006},{"g":"CD₃CN","seg":"m2a","x":1302,"y":-0.0010},{"g":"CD₃CN","seg":"m2a","x":1296,"y":-0.0041},{"g":"CD₃CN","seg":"m2a","x":1288,"y":-0.0088},{"g":"CD₃CN","seg":"m2a","x":1283,"y":-0.0030},{"g":"CD₃CN","seg":"m2a","x":1279,"y":0.0043},{"g":"CD₃CN","seg":"m2a","x":1271,"y":0.0080},{"g":"CD₃CN","seg":"m2a","x":1266,"y":0.0075},{"g":"CD₃CN","seg":"m2a","x":1261,"y":0.0062},{"g":"CD₃CN","seg":"m2a","x":1254,"y":0.0070},{"g":"CD₃CN","seg":"m2a","x":1247,"y":0.0080},{"g":"CD₃CN","seg":"m2a","x":1241,"y":0.0050},{"g":"CD₃CN","seg":"m2a","x":1235,"y":0.0006},{"g":"CD₃CN","seg":"m2a","x":1229,"y":-0.0020},{"g":"CD₃CN","seg":"m2a","x":1223,"y":-0.0032},{"g":"CD₃CN","seg":"m2a","x":1215,"y":-0.0035},{"g":"CD₃CN","seg":"m2a","x":1208,"y":-0.0041},{"g":"CD₃CN","seg":"m2a","x":1200,"y":-0.0025},{"g":"CD₃CN","seg":"m2a","x":1192,"y":0.0006},{"g":"CD₃CN","seg":"m2a","x":1183,"y":0.0060},{"g":"CD₃CN","seg":"m2a","x":1173,"y":0.0127},{"g":"CD₃CN","seg":"m2a","x":1165,"y":0.0180},{"g":"CD₃CN","seg":"m2a","x":1158,"y":0.0207},{"g":"CD₃CN","seg":"m2a","x":1150,"y":0.0195},{"g":"CD₃CN","seg":"m2a","x":1142,"y":0.0155},{"g":"CD₃CN","seg":"m2a","x":1133,"y":0.0080},{"g":"CD₃CN","seg":"m2a","x":1123,"y":0.0024},{"g":"CD₃CN","seg":"m2a","x":1116,"y":0.0015},{"g":"CD₃CN","seg":"m2a","x":1111,"y":0.0006},{"g":"CD₃CN","seg":"m2a","x":1105,"y":-0.0020},{"g":"CD₃CN","seg":"m2a","x":1099,"y":-0.0041},{"g":"CD₃CN","seg":"m2a","x":1093,"y":-0.0060},{"g":"CD₃CN","seg":"m2a","x":1089,"y":-0.0069},{"g":"CD₃CN","seg":"m2a","x":1084,"y":-0.0065},{"g":"CD₃CN","seg":"m2a","x":1076,"y":-0.0032},{"g":"CD₃CN","seg":"m2a","x":1071,"y":-0.0020},{"g":"CD₃CN","seg":"m2a","x":1067,"y":-0.0013},{"g":"CD₃CN","seg":"m2a","x":1062,"y":-0.0005},{"g":"CD₃CN","seg":"m2a","x":1058,"y":0.0006},
{"g":"CD₃CN","seg":"m2b","x":1019,"y":0.0052},{"g":"CD₃CN","seg":"m2b","x":1015,"y":0.0080},{"g":"CD₃CN","seg":"m2b","x":1011,"y":0.0095},{"g":"CD₃CN","seg":"m2b","x":1006,"y":0.0070},{"g":"CD₃CN","seg":"m2b","x":999,"y":0.0034},{"g":"CD₃CN","seg":"m2b","x":992,"y":0.0030},{"g":"CD₃CN","seg":"m2b","x":986,"y":0.0024},{"g":"CD₃CN","seg":"m2b","x":978,"y":0.0022},{"g":"CD₃CN","seg":"m2b","x":971,"y":0.0015},{"g":"CD₃CN","seg":"m2b","x":965,"y":0.0000},{"g":"CD₃CN","seg":"m2b","x":958,"y":-0.0032},{"g":"CD₃CN","seg":"m2b","x":954,"y":-0.0070},{"g":"CD₃CN","seg":"m2b","x":951,"y":-0.0088},{"g":"CD₃CN","seg":"m2b","x":947,"y":-0.0075},{"g":"CD₃CN","seg":"m2b","x":942,"y":-0.0040},{"g":"CD₃CN","seg":"m2b","x":936,"y":0.0006},{"g":"CD₃CN","seg":"m2b","x":928,"y":0.0018},{"g":"CD₃CN","seg":"m2b","x":918,"y":0.0028},{"g":"CD₃CN","seg":"m2b","x":910,"y":0.0027},{"g":"CD₃CN","seg":"m2b","x":900,"y":0.0024}
],
"vcdlab": [
{"g":"CDCl₃","t":"szum","x":1895,"y":0.0697},
{"g":"CD₃CN","t":"szum","x":1895,"y":0.0598},
{"g":"CDCl₃","t":"CDCl₃","x":1895,"y":0.0348},
{"g":"CD₃CN","t":"CD₃CN","x":1895,"y":0.0080}
],
"roa": [
{"x":1900,"y":180000},{"x":1885,"y":280000},{"x":1870,"y":100000},{"x":1853,"y":280000},{"x":1836,"y":0},{"x":1819,"y":210000},{"x":1802,"y":70000},{"x":1785,"y":280000},{"x":1768,"y":0},{"x":1751,"y":180000},{"x":1734,"y":530000},{"x":1722,"y":-530000},{"x":1700,"y":-880000},{"x":1684,"y":0},{"x":1669,"y":770000},{"x":1656,"y":-980000},{"x":1630,"y":-700000},{"x":1609,"y":-460000},{"x":1592,"y":70000},{"x":1573,"y":70000},{"x":1556,"y":-40000},{"x":1539,"y":140000},{"x":1522,"y":-280000},{"x":1503,"y":-70000},{"x":1488,"y":-180000},{"x":1476,"y":-280000},{"x":1461,"y":880000},{"x":1444,"y":-980000},{"x":1429,"y":-630000},{"x":1412,"y":-1580000},{"x":1397,"y":-3500000},{"x":1386,"y":-5600000},{"x":1376,"y":-4560000},{"x":1365,"y":-3860000},{"x":1359,"y":-4390000},{"x":1348,"y":880000},{"x":1338,"y":-180000},{"x":1329,"y":700000},{"x":1314,"y":6670000},{"x":1302,"y":1400000},{"x":1291,"y":-4900000},{"x":1278,"y":-11900000},{"x":1265,"y":-4900000},{"x":1255,"y":-180000},{"x":1242,"y":-880000},{"x":1231,"y":-1470000},{"x":1217,"y":-530000},{"x":1200,"y":980000},{"x":1185,"y":-350000},{"x":1174,"y":-1230000},{"x":1159,"y":980000},{"x":1147,"y":350000},{"x":1136,"y":-1400000},{"x":1121,"y":-2800000},{"x":1106,"y":-2030000},{"x":1096,"y":-2530000},{"x":1085,"y":-1400000},{"x":1072,"y":0},{"x":1057,"y":1160000},{"x":1047,"y":-700000},{"x":1032,"y":-3160000},{"x":1019,"y":350000},{"x":1004,"y":1500000},{"x":993,"y":1540000},{"x":979,"y":0},{"x":962,"y":-2100000},{"x":947,"y":-6500000},{"x":934,"y":-3160000},{"x":920,"y":0},{"x":903,"y":3750000},{"x":892,"y":350000},{"x":883,"y":-2740000},{"x":873,"y":-350000},{"x":856,"y":-770000},{"x":839,"y":-880000},{"x":824,"y":180000},{"x":803,"y":0},{"x":782,"y":-180000},{"x":760,"y":70000},{"x":739,"y":140000},{"x":718,"y":0},{"x":690,"y":-180000},{"x":669,"y":280000},{"x":654,"y":1050000},{"x":639,"y":180000},{"x":622,"y":-180000},{"x":601,"y":0},{"x":586,"y":70000},{"x":574,"y":-350000},{"x":559,"y":180000},{"x":542,"y":530000},{"x":527,"y":420000},{"x":512,"y":980000},{"x":495,"y":530000},{"x":478,"y":880000},{"x":463,"y":530000},{"x":442,"y":1050000},{"x":421,"y":1580000},{"x":406,"y":880000},{"x":389,"y":-530000},{"x":368,"y":-530000},{"x":347,"y":-180000},{"x":325,"y":280000},{"x":304,"y":0},{"x":283,"y":0},{"x":266,"y":280000},{"x":251,"y":0},{"x":230,"y":180000},{"x":200,"y":0}
]
},
"concat": [
{
  "title": {"text": "ECD", "dx": 9, "offset": 3},
  "width": 259, "height": 192,
  "data": {"name": "ecd"},
  "mark": {"type": "line", "strokeWidth": 1.6, "interpolate": "monotone", "clip": true},
  "encoding": {
    "x": {"field": "x", "type": "quantitative", "scale": {"domain": [180, 340], "nice": false, "zero": false}, "axis": {"title": "λ / nm", "labelOverlap": false, "labelFlush": false, "values": [180,190,200,210,220,230,240,250,260,270,280,290,300,310,320,330,340], "labelExpr": "datum.value % 20 === 0 ? '' + datum.value : ''"}},
    "y": {"field": "y", "type": "quantitative", "scale": {"domain": [-11.9, 7.45], "nice": false, "zero": false}, "axis": {"title": "Δε / dm³mol⁻¹cm⁻¹", "labelOverlap": false, "values": [-10,-7.5,-5,-2.5,0,2.5,5], "labelExpr": "datum.value % 5 === 0 ? '' + datum.value : ''", "grid": true, "gridColor": "#888888", "gridWidth": 1.3, "gridOpacity": {"condition": {"test": "datum.value === 0", "value": 1}, "value": 0}}},
    "color": {"field": "s", "type": "nominal", "scale": {"domain": ["Hex","CHCl₃","CH₃CN","H₂O"], "range": ["#5252ee","#ffa43a","#f04848","#3a9a3a"]},
      "legend": {"title": null, "orient": "none", "legendX": 195, "legendY": 7, "symbolType": "M-1.5,0H1.5", "symbolSize": 196, "symbolStrokeWidth": 1.6, "labelOffset": 8, "rowPadding": 0, "labelFontSize": 10.5}}
  }
},
{
  "title": {"text": "VT–ECD", "dx": 12, "offset": 3},
  "width": 260, "height": 197,
  "data": {"name": "vt"},
  "mark": {"type": "line", "strokeWidth": 1.6, "interpolate": "monotone", "clip": true},
  "encoding": {
    "x": {"field": "x", "type": "quantitative", "scale": {"domain": [230, 340], "nice": false, "zero": false}, "axis": {"title": "λ / nm", "labelOverlap": false, "labelFlush": false, "values": [230,240,250,260,270,280,290,300,310,320,330,340], "labelExpr": "datum.value % 20 === 0 ? '' + datum.value : ''"}},
    "y": {"field": "y", "type": "quantitative", "scale": {"domain": [-11.06, 4.7], "nice": false, "zero": false}, "axis": {"title": "Δε / dm³mol⁻¹cm⁻¹", "labelOverlap": false, "values": [-11,-10,-9,-8,-7,-6,-5,-4,-3,-2,-1,0,1,2,3,4], "labelExpr": "datum.value % 2 === 0 ? '' + datum.value : ''", "grid": true, "gridColor": "#888888", "gridWidth": 1.3, "gridOpacity": {"condition": {"test": "datum.value === 0", "value": 1}, "value": 0}}},
    "color": {"field": "t", "type": "nominal", "scale": {"domain": ["25 °C","0 °C","-40 °C","-80 °C","-120 °C","-160 °C","-180 °C"], "range": ["#ff5a5a","#ffaa4a","#b060ff","#3a9a3a","#4ef0f0","#4a4aff","#2a2ab8"]},
      "legend": {"title": null, "orient": "none", "legendX": 181, "legendY": 87, "symbolType": "M-1.7,0H1.7", "symbolSize": 196, "symbolStrokeWidth": 1.8, "labelOffset": 38, "labelAlign": "right", "rowPadding": 0, "labelFontSize": 10.5}}
  }
},
{
  "title": {"text": "ECD + Rh₂(O₂CH₃)₄", "dx": -16, "offset": 3},
  "width": 321, "height": 235,
  "data": {"name": "rh"},
  "mark": {"type": "line", "strokeWidth": 1.7, "interpolate": "monotone", "clip": true},
  "encoding": {
    "x": {"field": "x", "type": "quantitative", "scale": {"domain": [225, 800], "nice": false, "zero": false}, "axis": {"title": "λ / nm", "labelOverlap": false, "labelFlush": false, "values": [250,300,350,400,450,500,550,600,650,700,750,800], "labelExpr": "datum.value % 100 === 0 ? '' + datum.value : ''", "labelFontSize": 12.5, "labelColor": "#333333", "titleFontSize": 13, "titleColor": "#333333"}},
    "y": {"field": "y", "type": "quantitative", "scale": {"domain": [-10.52, 6.31], "nice": false, "zero": false}, "axis": {"title": "Δε' / dm³ mol⁻¹ cm⁻¹", "labelOverlap": false, "values": [-9,-7.5,-6,-4.5,-3,-1.5,0,1.5,3,4.5,6], "labelExpr": "datum.value % 3 === 0 ? '' + datum.value : ''", "labelFontSize": 12.5, "labelColor": "#333333", "titleFontSize": 13, "titleColor": "#333333", "grid": true, "gridColor": "#666666", "gridWidth": 1.2, "gridOpacity": {"condition": {"test": "datum.value === 0", "value": 1}, "value": 0}}},
    "color": {"field": "s", "type": "nominal", "scale": {"domain": ["6 in CH₃CN","6 + Rh₂-core in CH₃CN","6 + Rh₂-core in EtOH"], "range": ["#2aa05a","#1a1aff","#ee2a2a"]},
      "legend": {"title": null, "orient": "none", "legendX": 135, "legendY": 165, "symbolType": "M-1.93,0H1.93", "symbolSize": 196, "symbolStrokeWidth": 1.8, "labelOffset": 10, "rowPadding": 4.5, "labelFontSize": 12, "labelFontWeight": "bold", "labelColor": "#111111"}},
    "strokeDash": {"field": "s", "type": "nominal", "scale": {"domain": ["6 in CH₃CN","6 + Rh₂-core in CH₃CN","6 + Rh₂-core in EtOH"], "range": [[6,4],[1,0],[1,0]]},
      "legend": {"title": null, "orient": "none", "legendX": 135, "legendY": 165, "symbolType": "M-1.93,0H1.93", "symbolSize": 196, "symbolStrokeWidth": 1.8, "labelOffset": 10, "rowPadding": 4.5, "labelFontSize": 12, "labelFontWeight": "bold", "labelColor": "#111111"}}
  }
},
{
  "title": {"text": "ORD", "dx": 9, "offset": 4},
  "width": 262, "height": 199,
  "data": {"name": "ord"},
  "layer": [
    {"mark": {"type": "line", "strokeWidth": 1.3},
     "encoding": {
      "x": {"field": "x", "type": "quantitative", "scale": {"domain": [400, 650], "nice": false, "zero": false}, "axis": {"title": "λ / nm", "labelOverlap": false, "labelFlush": false, "values": [400,425,450,475,500,525,550,575,600,625,650], "labelExpr": "datum.value % 50 === 0 ? '' + datum.value : ''", "labelFontSize": 9}},
      "y": {"field": "y", "type": "quantitative", "scale": {"domain": [-200, 52.5], "nice": false, "zero": false}, "axis": {"title": "[α] / deg cm² g⁻¹", "labelOverlap": false, "values": [-200,-175,-150,-125,-100,-75,-50,-25,0,25,50], "labelExpr": "datum.value % 50 === 0 ? '' + datum.value : ''", "labelFontSize": 9, "grid": true, "gridColor": "#666666", "gridWidth": 1.2, "gridOpacity": {"condition": {"test": "datum.value === 0", "value": 1}, "value": 0}}},
      "color": {"field": "s", "type": "nominal", "scale": {"domain": ["H₂O","CH₃CN","CHCl₃"], "range": ["#2e2ef6","#f42222","#1e9e1e"]},
        "legend": {"title": null, "orient": "none", "legendX": 191, "legendY": 137, "symbolSize": 40, "labelOffset": 11.7, "rowPadding": 4.5, "labelFontSize": 11}}
     }},
    {"mark": {"type": "point", "filled": true, "opacity": 1, "size": 38},
     "encoding": {
      "x": {"field": "x", "type": "quantitative", "axis": {"title": "λ / nm", "labelOverlap": false, "labelFlush": false, "values": [400,425,450,475,500,525,550,575,600,625,650], "labelExpr": "datum.value % 50 === 0 ? '' + datum.value : ''", "labelFontSize": 9}},
      "y": {"field": "y", "type": "quantitative", "axis": {"title": "[α] / deg cm² g⁻¹", "labelOverlap": false, "values": [-200,-175,-150,-125,-100,-75,-50,-25,0,25,50], "labelExpr": "datum.value % 50 === 0 ? '' + datum.value : ''", "labelFontSize": 9, "grid": true, "gridColor": "#666666", "gridWidth": 1.2, "gridOpacity": {"condition": {"test": "datum.value === 0", "value": 1}, "value": 0}}},
      "color": {"field": "s", "type": "nominal",
        "legend": {"title": null, "orient": "none", "legendX": 191, "legendY": 137, "symbolSize": 40, "labelOffset": 11.7, "rowPadding": 4.5, "labelFontSize": 11}},
      "shape": {"field": "s", "type": "nominal", "scale": {"domain": ["H₂O","CH₃CN","CHCl₃"], "range": ["triangle-up","square","circle"]},
        "legend": {"title": null, "orient": "none", "legendX": 191, "legendY": 137, "symbolSize": 40, "labelOffset": 11.7, "rowPadding": 4.5, "labelFontSize": 11}}
     }}
  ]
},
{
  "title": {"text": "VCD", "dx": 8, "offset": 4},
  "width": 263, "height": 187,
  "layer": [
    {"data": {"name": "vcd"}, "mark": {"type": "line", "strokeWidth": 1.3, "interpolate": "monotone", "clip": true},
     "encoding": {
      "x": {"field": "x", "type": "quantitative", "scale": {"domain": [900, 1900], "reverse": true, "nice": false, "zero": false}, "axis": {"title": "ν / cm⁻¹", "labelOverlap": false, "labelFlush": false, "values": [900,950,1000,1050,1100,1150,1200,1250,1300,1350,1400,1450,1500,1550,1600,1650,1700,1750,1800,1850,1900], "labelExpr": "datum.value % 100 === 0 ? '' + datum.value : ''", "labelFontSize": 8}},
      "y": {"field": "y", "type": "quantitative", "scale": {"domain": [-0.0304, 0.0746], "nice": false, "zero": false}, "axis": {"title": "Δε / dm³mol⁻¹cm⁻¹", "labelOverlap": false, "values": [-0.03,-0.02,-0.01,0,0.01,0.02,0.03,0.04,0.05,0.06,0.07], "labelExpr": "abs((datum.value * 100) % 2) < 0.01 ? '' + datum.value : ''", "labelFontSize": 9}},
      "color": {"field": "g", "type": "nominal", "scale": {"domain": ["CDCl₃","CD₃CN"], "range": ["#ff4a4a","#4a4aff"]}, "legend": null},
      "detail": {"field": "seg", "type": "nominal"}
     }},
    {"data": {"name": "vcdlab"}, "mark": {"type": "text", "align": "left", "baseline": "middle", "fontSize": 11, "font": "Liberation Sans"},
     "encoding": {
      "x": {"field": "x", "type": "quantitative", "axis": {"title": "ν / cm⁻¹", "labelOverlap": false, "labelFlush": false, "values": [900,950,1000,1050,1100,1150,1200,1250,1300,1350,1400,1450,1500,1550,1600,1650,1700,1750,1800,1850,1900], "labelExpr": "datum.value % 100 === 0 ? '' + datum.value : ''", "labelFontSize": 8}},
      "y": {"field": "y", "type": "quantitative", "axis": {"title": "Δε / dm³mol⁻¹cm⁻¹", "labelOverlap": false, "values": [-0.03,-0.02,-0.01,0,0.01,0.02,0.03,0.04,0.05,0.06,0.07], "labelExpr": "abs((datum.value * 100) % 2) < 0.01 ? '' + datum.value : ''", "labelFontSize": 9}},
      "text": {"field": "t"},
      "color": {"field": "g", "type": "nominal", "legend": null}
     }}
  ]
},
{
  "title": {"text": "ROA", "dx": -2, "offset": 4},
  "width": 278, "height": 196,
  "data": {"name": "roa"},
  "mark": {"type": "line", "strokeWidth": 1.6, "color": "#3a3aa6", "interpolate": "monotone", "clip": true},
  "encoding": {
    "x": {"field": "x", "type": "quantitative", "scale": {"domain": [200, 1900], "reverse": true, "nice": false, "zero": false}, "axis": {"title": "ν / cm⁻¹", "labelOverlap": false, "labelFlush": false, "values": [200,300,400,500,600,700,800,900,1000,1100,1200,1300,1400,1500,1600,1700,1800,1900], "labelExpr": "datum.value % 200 === 0 ? '' + datum.value : ''", "labelFontSize": 9}},
    "y": {"field": "y", "type": "quantitative", "scale": {"domain": [-13050000, 7580000], "nice": false, "zero": false}, "axis": {"title": "Iᵣ - Iₗ", "labelOverlap": false, "values": [-12000000,-9000000,-6000000,-3000000,0,3000000,6000000], "labelExpr": "datum.value === 0 ? '0' : datum.value === -12000000 ? '-1.2x10⁷' : (datum.value < 0 ? '-' : '') + (abs(datum.value) / 1000000) + 'x10⁶'", "labelFontSize": 8.5, "grid": true, "gridColor": "#555555", "gridWidth": 1.2, "gridOpacity": {"condition": {"test": "datum.value === 0", "value": 1}, "value": 0}}}
  }
}
]
}
